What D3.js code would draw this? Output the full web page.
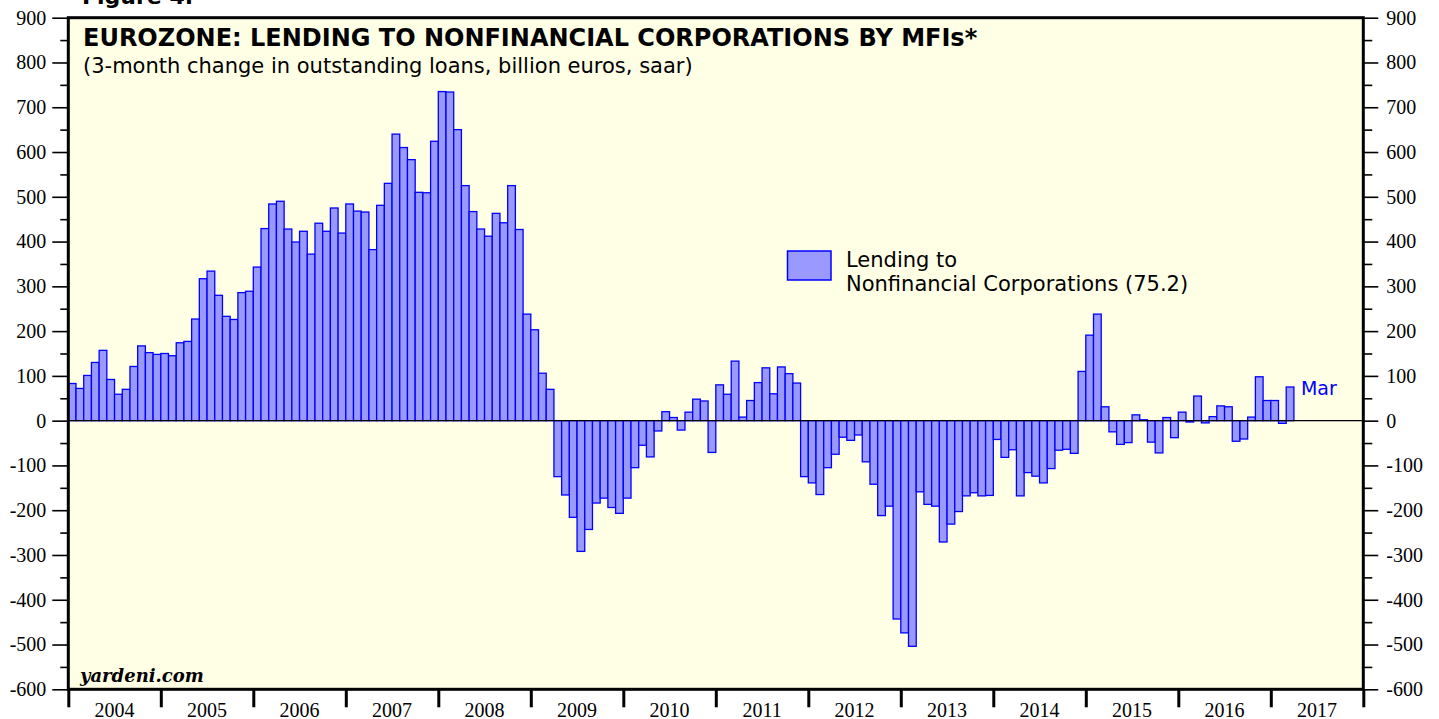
<!DOCTYPE html>
<html lang="en">
<head>
    <meta charset="UTF-8">
    <title>Eurozone: Lending to Nonfinancial Corporations by MFIs</title>
    <script src="https://d3js.org/d3.v7.min.js"></script>
    <style>
        body { margin: 0; background: #ffffff; }
    </style>
</head>
<body>
    <svg id="chart" width="1439" height="719"></svg>

    <script>
        // Monthly data, Jan 2004 .. Mar 2017 (billion euros, saar)
        const startYear = 2004;
        const years = [2004, 2005, 2006, 2007, 2008, 2009, 2010, 2011, 2012, 2013, 2014, 2015, 2016, 2017];
        const lending = [
            83, 72, 101, 130, 157, 92, 59, 70, 121, 167, 152, 148,            // 2004
            150, 145, 174, 177, 227, 317, 334, 280, 233, 226, 286, 289,       // 2005
            343, 429, 484, 490, 428, 399, 423, 372, 441, 423, 475, 419,       // 2006
            484, 468, 466, 382, 481, 530, 640, 610, 583, 510, 509, 624,       // 2007
            735, 734, 650, 525, 467, 428, 412, 463, 442, 525, 427, 238,       // 2008
            203, 106, 70, -125, -166, -216, -292, -243, -184, -173, -194, -207, // 2009
            -173, -105, -55, -81, -23, 20, 7, -21, 19, 48, 44, -71,           // 2010
            80, 59, 133, 8, 45, 85, 118, 60, 120, 105, 84, -125,              // 2011
            -139, -165, -105, -75, -37, -44, -32, -92, -142, -212, -191, -443, // 2012
            -474, -504, -159, -187, -191, -271, -231, -203, -168, -161, -168, -167, // 2013
            -42, -82, -65, -168, -116, -124, -139, -107, -66, -64, -73, 110,  // 2014
            191, 238, 31, -25, -53, -49, 13, 2, -48, -72, 7, -38,             // 2015
            19, -3, 55, -5, 9, 33, 31, -46, -41, 8, 98, 45,                   // 2016
            45, -6, 75.2                                                      // 2017
        ];
        const yTicks = [-600, -500, -400, -300, -200, -100, 0, 100, 200, 300, 400, 500, 600, 700, 800, 900];
        const yMinorTicks = [-550, -450, -350, -250, -150, -50, 50, 150, 250, 350, 450, 550, 650, 750, 850];
        const legendLabel = ['Lending to', 'Nonfinancial Corporations (75.2)'];
        const lastLabel = 'Mar';

        const svg = d3.select('#chart');
        const margin = { top: 17.7, right: 75.7, bottom: 29.7, left: 68.3 };
        const width = +svg.attr('width');
        const height = +svg.attr('height');
        const plotRight = width - margin.right;
        const plotBottom = height - margin.bottom;

        const data = lending.map((v, i) => ({ index: i, year: startYear + Math.floor(i / 12), value: v }));

        // months since Jan 2004 -> pixels
        const x = d3.scaleLinear()
            .domain([0, years.length * 12])
            .range([margin.left, plotRight]);

        const y = d3.scaleLinear()
            .domain([-600, 900])
            .range([plotBottom, margin.top]);

        const sans = '"DejaVu Sans", Verdana, sans-serif';
        const serif = '"Liberation Serif", "Times New Roman", serif';

        // "Figure 4." heading, mostly cut off at the top
        svg.append('text')
            .attr('x', 82)
            .attr('y', 4)
            .style('font-family', sans)
            .style('font-weight', 'bold')
            .style('font-size', '22px')
            .text('Figure 4.');

        // plot background
        svg.append('rect')
            .attr('x', margin.left)
            .attr('y', margin.top)
            .attr('width', plotRight - margin.left)
            .attr('height', plotBottom - margin.top)
            .attr('fill', '#ffffe6');

        // bars
        svg.append('g')
            .selectAll('rect')
            .data(data)
            .enter().append('rect')
            .attr('x', d => x(d.index))
            .attr('width', d => x(d.index + 1) - x(d.index))
            .attr('y', d => y(Math.max(0, d.value)))
            .attr('height', d => Math.abs(y(d.value) - y(0)))
            .attr('fill', '#9999ff')
            .attr('stroke', '#0000ff')
            .attr('stroke-width', 1.3);

        // zero line
        svg.append('line')
            .attr('x1', margin.left)
            .attr('x2', plotRight)
            .attr('y1', y(0))
            .attr('y2', y(0))
            .attr('stroke', '#000')
            .attr('stroke-width', 1.2);

        // y axes, major and minor ticks
        const styleAxis = g => {
            g.select('.domain').remove();
            g.selectAll('line').attr('stroke', '#000').attr('stroke-width', 1.6);
            g.selectAll('text')
                .style('font-family', serif)
                .style('font-size', '20px')
                .attr('fill', '#000');
        };
        const plain = d => String(d); // hyphen minus like the original

        svg.append('g')
            .attr('transform', `translate(${margin.left},0)`)
            .call(d3.axisLeft(y).tickValues(yTicks).tickSize(16).tickPadding(6).tickFormat(plain))
            .call(styleAxis);
        svg.append('g')
            .attr('transform', `translate(${margin.left},0)`)
            .call(d3.axisLeft(y).tickValues(yMinorTicks).tickSize(8).tickFormat(''))
            .call(styleAxis);

        svg.append('g')
            .attr('transform', `translate(${plotRight},0)`)
            .call(d3.axisRight(y).tickValues(yTicks).tickSize(15).tickPadding(8).tickFormat(plain))
            .call(styleAxis);
        svg.append('g')
            .attr('transform', `translate(${plotRight},0)`)
            .call(d3.axisRight(y).tickValues(yMinorTicks).tickSize(9).tickFormat(''))
            .call(styleAxis);

        // x axis: year ticks and centered year labels
        const xAxis = svg.append('g')
            .attr('transform', `translate(0,${plotBottom})`)
            .call(d3.axisBottom(x).tickValues(d3.range(0, years.length * 12 + 1, 12)).tickSize(18).tickFormat(''));
        xAxis.select('.domain').remove();
        xAxis.selectAll('line').attr('stroke', '#000').attr('stroke-width', 3);

        svg.append('g')
            .selectAll('text')
            .data(years)
            .enter().append('text')
            .attr('x', d => x((d - startYear) * 12 + 6))
            .attr('y', 716.5)
            .attr('text-anchor', 'middle')
            .style('font-family', serif)
            .style('font-size', '20px')
            .text(d => d);

        // plot frame
        svg.append('rect')
            .attr('x', margin.left)
            .attr('y', margin.top)
            .attr('width', plotRight - margin.left)
            .attr('height', plotBottom - margin.top)
            .attr('fill', 'none')
            .attr('stroke', '#000')
            .attr('stroke-width', 3);

        // titles
        svg.append('text')
            .attr('x', 83)
            .attr('y', 46)
            .style('font-family', sans)
            .style('font-weight', 'bold')
            .style('font-size', '24px')
            .text('EUROZONE: LENDING TO NONFINANCIAL CORPORATIONS BY MFIs*');

        svg.append('text')
            .attr('x', 83)
            .attr('y', 73)
            .style('font-family', sans)
            .style('font-size', '21px')
            .text('(3-month change in outstanding loans, billion euros, saar)');

        // legend
        svg.append('rect')
            .attr('x', 787.5)
            .attr('y', 251)
            .attr('width', 43.5)
            .attr('height', 29)
            .attr('fill', '#9999ff')
            .attr('stroke', '#0000ff')
            .attr('stroke-width', 1.5);

        svg.append('g')
            .selectAll('text')
            .data(legendLabel)
            .enter().append('text')
            .attr('x', 846)
            .attr('y', (d, i) => 266.5 + i * 24.5)
            .style('font-family', sans)
            .style('font-size', '21px')
            .text(d => d);

        // last value label
        const last = data[data.length - 1];
        svg.append('text')
            .attr('x', x(last.index + 1) + 7)
            .attr('y', 394.5)
            .attr('fill', '#0000ff')
            .style('font-family', sans)
            .style('font-size', '19px')
            .text(lastLabel);

        // watermark
        svg.append('text')
            .attr('x', 80)
            .attr('y', 681.5)
            .style('font-family', '"DejaVu Serif", serif')
            .style('font-weight', 'bold')
            .style('font-style', 'italic')
            .style('font-size', '18px')
            .text('yardeni.com');
    </script>
</body>
</html>
